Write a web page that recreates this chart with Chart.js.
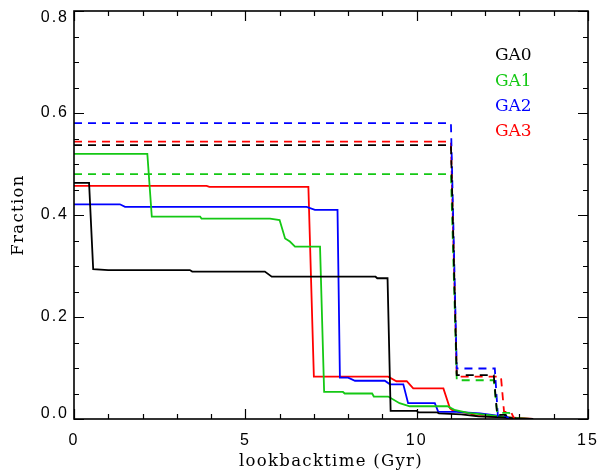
<!DOCTYPE html>
<html><head><meta charset="utf-8">
<script src="https://cdn.jsdelivr.net/npm/chart.js@4/dist/chart.umd.min.js"></script>
<style>html,body{margin:0;padding:0;background:#fff}#wrap{width:601px;height:474px}</style>
</head><body><div id="wrap"><canvas id="c" width="601" height="474"></canvas></div>
<script>
// ---- data ----
const seriesNames = ['GA0', 'GA1', 'GA2', 'GA3'];
const seriesColors = ['#000000', '#14c814', '#0000ff', '#ff0000'];

// solid lines
const ga0SolidX = [0, 0.44, 0.56, 1.0, 3.38, 3.45, 5.57, 5.77, 8.8, 8.85, 9.15, 9.24, 10.0, 10.05, 10.6, 10.65, 11.3, 11.8, 12.5, 12.9, 13.4];
const ga0SolidY = [0.463, 0.463, 0.294, 0.292, 0.292, 0.289, 0.289, 0.279, 0.279, 0.276, 0.276, 0.016, 0.016, 0.013, 0.013, 0.011, 0.009, 0.005, 0.003, 0.001, 0.0];
const ga1SolidX = [0, 2.14, 2.27, 3.68, 3.72, 5.72, 6.0, 6.16, 6.3, 6.45, 7.18, 7.3, 7.85, 7.9, 8.7, 8.75, 9.17, 9.5, 9.8, 10.9, 11.1, 11.5, 12.3, 12.8, 13.3];
const ga1SolidY = [0.52, 0.52, 0.397, 0.397, 0.393, 0.393, 0.39, 0.354, 0.348, 0.338, 0.338, 0.053, 0.053, 0.05, 0.05, 0.044, 0.044, 0.031, 0.025, 0.025, 0.018, 0.012, 0.006, 0.002, 0.0];
const ga2SolidX = [0, 1.34, 1.49, 6.79, 7.03, 7.69, 7.76, 7.84, 8.0, 8.2, 9.07, 9.22, 9.61, 9.75, 10.53, 10.63, 11.17, 11.85, 12.3, 12.6, 13.0];
const ga2SolidY = [0.421, 0.421, 0.416, 0.416, 0.41, 0.41, 0.081, 0.081, 0.081, 0.075, 0.075, 0.068, 0.068, 0.031, 0.031, 0.014, 0.014, 0.011, 0.007, 0.003, 0.0];
const ga3SolidX = [0, 3.87, 3.95, 6.84, 7.0, 9.17, 9.41, 9.71, 9.9, 10.78, 10.97, 11.03, 11.26, 11.55, 11.75, 12.7, 13.4];
const ga3SolidY = [0.457, 0.457, 0.455, 0.455, 0.083, 0.083, 0.074, 0.074, 0.060, 0.060, 0.021, 0.018, 0.014, 0.011, 0.006, 0.003, 0.0];

// dashed lines
const ga0DashX = [0, 11.0, 11.17, 12.25, 12.35, 12.6, 12.7];
const ga0DashY = [0.537, 0.537, 0.086, 0.086, 0.008, 0.008, 0.0];
const ga1DashX = [0, 11.0, 11.17, 12.25, 12.35, 12.7, 12.8];
const ga1DashY = [0.48, 0.48, 0.076, 0.076, 0.012, 0.012, 0.0];
const ga2DashX = [0, 11.0, 11.17, 12.28, 12.37, 12.6, 12.7];
const ga2DashY = [0.58, 0.58, 0.099, 0.099, 0.006, 0.006, 0.0];
const ga3DashX = [0, 11.0, 11.17, 12.46, 12.55, 12.75, 12.85];
const ga3DashY = [0.544, 0.544, 0.083, 0.083, 0.014, 0.014, 0.0];

// axes
const xTickValues = [0, 5, 10, 15];
const yTickValues = [0.0, 0.2, 0.4, 0.6, 0.8];

// ---- build datasets ----
const zip = (xs, ys) => xs.map((x, i) => ({x: x, y: ys[i]}));
const solid = [[ga0SolidX, ga0SolidY], [ga1SolidX, ga1SolidY], [ga2SolidX, ga2SolidY], [ga3SolidX, ga3SolidY]];
const dashed = [[ga0DashX, ga0DashY], [ga1DashX, ga1DashY], [ga2DashX, ga2DashY], [ga3DashX, ga3DashY]];
const datasets = [];
dashed.forEach((d, i) => datasets.push({
  label: seriesNames[i] + ' dashed', data: zip(d[0], d[1]), borderColor: seriesColors[i],
  borderWidth: 1.8, borderDash: [8, 6], pointRadius: 0, showLine: true, tension: 0, fill: false
}));
solid.forEach((d, i) => datasets.push({
  label: seriesNames[i], data: zip(d[0], d[1]), borderColor: seriesColors[i],
  borderWidth: 1.8, pointRadius: 0, showLine: true, tension: 0, fill: false
}));

const TICK_SPACING = 2;
const TITLE_SPACING = 1.3;

const framePlugin = {
  id: 'frame',
  beforeDraw(chart) {
    chart.ctx.letterSpacing = TICK_SPACING + 'px';
  },
  afterDatasetsDraw(chart) {
    const ctx = chart.ctx, a = chart.chartArea;
    const xs = chart.scales.x, ys = chart.scales.y;
    ctx.save();
    ctx.strokeStyle = '#000';
    ctx.lineWidth = 1.6;
    ctx.strokeRect(a.left, a.top, a.right - a.left, a.bottom - a.top);
    ctx.lineWidth = 1.2;
    ctx.beginPath();
    for (let v = 0; v <= 15.0001; v += 1) {
      const px = Math.round(xs.getPixelForValue(v)) + 0.5;
      const len = (Math.abs(v % 5) < 1e-6) ? 10 : 5;
      ctx.moveTo(px, a.bottom); ctx.lineTo(px, a.bottom - len);
      ctx.moveTo(px, a.top); ctx.lineTo(px, a.top + len);
    }
    for (let k = 0; k <= 16; k++) {
      const v = k * 0.05;
      const py = Math.round(ys.getPixelForValue(v)) + 0.5;
      const len = (k % 4 === 0) ? 10 : 5;
      ctx.moveTo(a.left, py); ctx.lineTo(a.left + len, py);
      ctx.moveTo(a.right, py); ctx.lineTo(a.right - len, py);
    }
    ctx.stroke();
    // y tick labels (end labels nudged inward as in the reference)
    ctx.fillStyle = '#000';
    ctx.font = '16px "Liberation Sans", Arial';
    ctx.textAlign = 'right';
    ctx.textBaseline = 'middle';
    yTickValues.forEach((v, i) => {
      let py = ys.getPixelForValue(v);
      if (i === yTickValues.length - 1) py += 7;
      if (i === 0) py -= 5;
      ctx.fillText(v.toFixed(1), a.left - 7 + TICK_SPACING, py);
    });
    ctx.restore();
  },
  afterDraw(chart) {
    const ctx = chart.ctx;
    ctx.save();
    ctx.letterSpacing = '0px';
    ctx.font = '17px "DejaVu Serif"';
    ctx.textAlign = 'left';
    ctx.textBaseline = 'middle';
    seriesNames.forEach((n, i) => {
      ctx.fillStyle = seriesColors[i];
      ctx.fillText(n, 495, 56 + i * 25.2);
    });
    ctx.restore();
  }
};

const zeroPad = s => { s.paddingTop = 0; s.paddingBottom = 0; s.paddingLeft = 0; s.paddingRight = 0; };
const spacedTitle = s => {
  if (s._spacedTitle) return;
  s._spacedTitle = true;
  const orig = s.drawTitle;
  s.drawTitle = function () {
    const ctx = this.ctx;
    const prev = ctx.letterSpacing;
    ctx.letterSpacing = TITLE_SPACING + 'px';
    orig.call(this);
    ctx.letterSpacing = prev;
  };
};

new Chart(document.getElementById('c'), {
  type: 'scatter',
  data: { datasets: datasets },
  options: {
    responsive: false,
    animation: false,
    devicePixelRatio: 1,
    layout: { padding: { left: 0, top: 11, right: 13, bottom: 0 } },
    plugins: { legend: { display: false }, tooltip: { enabled: false } },
    scales: {
      x: {
        type: 'linear', min: 0, max: 15,
        afterBuildTicks: s => { s.ticks = xTickValues.map(v => ({value: v})); },
        afterFit: s => { s.height = 55; zeroPad(s); spacedTitle(s); },
        grid: { display: false, drawTicks: false },
        border: { display: false },
        ticks: { color: '#000', padding: 12, maxRotation: 0, font: { family: '"Liberation Sans", Arial', size: 16 },
                 callback: v => String(v) },
        title: { display: true, text: 'lookbacktime (Gyr)', color: '#000',
                 font: { family: '"DejaVu Serif"', size: 16.5 }, padding: { top: 0, bottom: 2 } }
      },
      y: {
        type: 'linear', min: 0, max: 0.8,
        afterBuildTicks: s => { s.ticks = yTickValues.map(v => ({value: v})); },
        afterFit: s => { s.width = 74; zeroPad(s); spacedTitle(s); },
        grid: { display: false, drawTicks: false },
        border: { display: false },
        ticks: { display: false },
        title: { display: true, text: 'Fraction', color: '#000',
                 font: { family: '"DejaVu Serif"', size: 16.5 }, padding: { top: 9, bottom: 0 } }
      }
    }
  },
  plugins: [framePlugin]
});
</script>
</body></html>
